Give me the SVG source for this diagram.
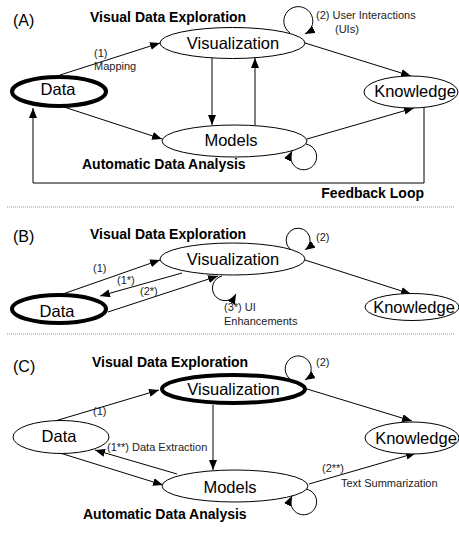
<svg xmlns="http://www.w3.org/2000/svg" width="459" height="534" viewBox="0 0 459 534">
<style>
.n{fill:#fff;stroke:#000;stroke-width:1}
.thick{stroke-width:4}
.nt{font-family:"Liberation Sans",Arial,sans-serif;font-size:16.5px;text-anchor:middle;fill:#000}
.h{font-family:"Liberation Sans",Arial,sans-serif;font-size:14px;font-weight:bold;fill:#000}
.p{font-family:"Liberation Sans",Arial,sans-serif;font-size:16px;fill:#000}
.l{font-family:"Liberation Sans",Arial,sans-serif;font-size:11px;fill:#222}
.e{fill:none;stroke:#000;stroke-width:1;marker-end:url(#ah)}
.sep{stroke:#999;stroke-width:1;stroke-dasharray:1,1}
</style>
<defs>
<marker id="ah" viewBox="0 0 10 8" refX="10" refY="4" markerWidth="10" markerHeight="8" orient="auto" markerUnits="userSpaceOnUse"><path d="M0,0 L10,4 L0,8 z" fill="#000"/></marker>
</defs>
<rect width="459" height="534" fill="#fff"/>

<!-- Panel A -->
<text class="p" x="13" y="26">(A)</text>
<text class="h" x="90" y="22">Visual Data Exploration</text>
<text class="h" x="82" y="169">Automatic Data Analysis</text>
<text class="h" x="424" y="198" text-anchor="end">Feedback Loop</text>
<g id="connectors-A">
<path class="e" d="M60 75 L160 43"/>
<path class="e" d="M64 107 L162 139"/>
<path class="e" d="M212 58 L212 125"/>
<path class="e" d="M255 125 L255 58"/>
<path class="e" d="M305 43 L411 76"/>
<path class="e" d="M307 139 L414 108"/>
<path class="e" d="M424 107 L424 183 L33 183 L33 108"/>
<path class="e" d="M290 33 A14.5 14.5 0 1 1 305 34"/>
<path class="e" d="M306 144 A13 13 0 1 1 292 151"/>
<text class="l" x="94" y="57">(1)</text>
<text class="l" x="94" y="70">Mapping</text>
<text class="l" x="316" y="19">(2) User Interactions</text>
<text class="l" x="335" y="33">(UIs)</text>
</g>
<g id="A-data"><ellipse class="n thick" cx="59" cy="91.5" rx="47" ry="14.5"/><text class="nt" x="58" y="95">Data</text></g>
<g id="A-vis"><ellipse class="n" cx="232.5" cy="43" rx="72.5" ry="15.5"/><text class="nt" x="233" y="49">Visualization</text></g>
<g id="A-models"><ellipse class="n" cx="234.5" cy="141" rx="72.5" ry="16"/><text class="nt" x="231" y="146">Models</text></g>
<g id="A-knowledge"><ellipse class="n" cx="411" cy="92" rx="47" ry="16"/><text class="nt" x="415" y="97">Knowledge</text></g>

<line class="sep" x1="7" y1="207" x2="455" y2="207"/>

<!-- Panel B -->
<text class="p" x="13" y="242">(B)</text>
<text class="h" x="90" y="239">Visual Data Exploration</text>
<g id="connectors-B">
<path class="e" d="M60 295 L160 260"/>
<path class="e" d="M182 273 L100 296"/>
<path class="e" d="M108 312 L218 276"/>
<path class="e" d="M305 260 L411 294"/>
<path class="e" d="M290 249 A12 12 0 1 1 305 250"/>
<path class="e" d="M222 276 A12.5 12.5 0 1 0 236 294"/>
<text class="l" x="93" y="272">(1)</text>
<text class="l" x="117" y="284">(1*)</text>
<text class="l" x="140" y="295">(2*)</text>
<text class="l" x="316" y="241">(2)</text>
<text class="l" x="224" y="311">(3*) UI</text>
<text class="l" x="224" y="325">Enhancements</text>
</g>
<g id="B-data"><ellipse class="n thick" cx="59" cy="309" rx="47" ry="14"/><text class="nt" x="57" y="317">Data</text></g>
<g id="B-vis"><ellipse class="n" cx="232.5" cy="259" rx="72.5" ry="16"/><text class="nt" x="233" y="265">Visualization</text></g>
<g id="B-knowledge"><ellipse class="n" cx="412" cy="307" rx="47" ry="13.5"/><text class="nt" x="414" y="313">Knowledge</text></g>

<line class="sep" x1="7" y1="334" x2="455" y2="334"/>

<!-- Panel C -->
<text class="p" x="13" y="372">(C)</text>
<text class="h" x="92" y="367">Visual Data Exploration</text>
<text class="h" x="83" y="519">Automatic Data Analysis</text>
<g id="connectors-C">
<path class="e" d="M55 421 L159 390"/>
<path class="e" d="M60 453 L163 485"/>
<path class="e" d="M177 474 L95 450"/>
<path class="e" d="M213 405 L213 470"/>
<path class="e" d="M307 389 L412 421"/>
<path class="e" d="M309 484 L416 453"/>
<path class="e" d="M290 379 A13 13 0 1 1 305 380"/>
<path class="e" d="M306 489 A13 13 0 1 1 292 496"/>
<text class="l" x="93" y="415">(1)</text>
<text class="l" x="107" y="451">(1**) Data Extraction</text>
<text class="l" x="322" y="472">(2**)</text>
<text class="l" x="341" y="487">Text Summarization</text>
<text class="l" x="316" y="366">(2)</text>
</g>
<g id="C-data"><ellipse class="n" cx="61" cy="437" rx="48" ry="16.5"/><text class="nt" x="59" y="442">Data</text></g>
<g id="C-vis"><ellipse class="n thick" cx="233.5" cy="389" rx="71.5" ry="14"/><text class="nt" x="233.5" y="395">Visualization</text></g>
<g id="C-models"><ellipse class="n" cx="235" cy="486" rx="73" ry="16"/><text class="nt" x="230" y="493">Models</text></g>
<g id="C-knowledge"><ellipse class="n" cx="412" cy="438" rx="47" ry="16"/><text class="nt" x="416" y="444">Knowledge</text></g>
</svg>
